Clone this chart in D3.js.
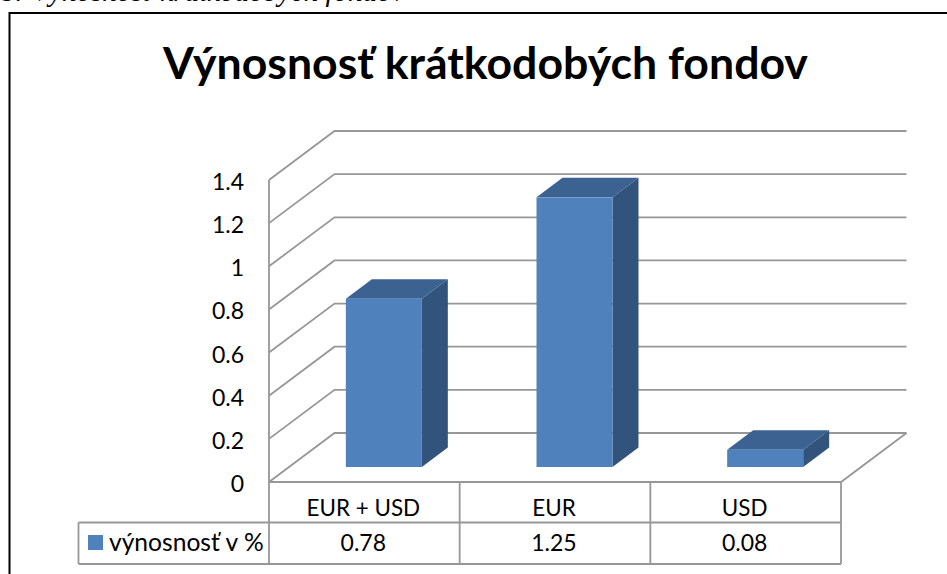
<!DOCTYPE html>
<html><head><meta charset="utf-8">
<script src="https://cdnjs.cloudflare.com/ajax/libs/d3/7.8.5/d3.min.js"></script>
<style>html,body{margin:0;padding:0;background:#fff;overflow:hidden}svg{display:block}text{font-family:Lato,"Open Sans",sans-serif;fill:#000}</style>
</head><body><svg id="c" width="947" height="574"></svg>
<script>
const categories = ["EUR + USD", "EUR", "USD"];
const values = [0.78, 1.25, 0.08];
const seriesName = "výnosnosť v %";
const tableLabels = ["0.78", "1.25", "0.08"];
const yTicks = [0, 0.2, 0.4, 0.6, 0.8, 1, 1.2, 1.4];
const chartTitle = "Výnosnosť krátkodobých fondov";
const captionText = "8: Výnosnosť krátkodobých fondov";

const svg = d3.select("#c");
const dx = 65.5, dy = -49;          // wall depth
const barDx = 26, barDy = -19.5;    // bar depth
const barInset = 15;                // bar front is this far above the floor front edge
const x = d3.scaleBand().domain(categories).range([269, 841]).paddingInner(0).paddingOuter(0);
const y = d3.scaleLinear().domain([0, 1.4]).range([482, 180]);
const grey = "#979797";

svg.append("text").attr("x", 0).attr("y", 1).attr("font-size", 29)
  .style("font-family", "'Liberation Serif',serif").style("font-style", "italic").text(captionText);

// outer frame
svg.append("path").attr("d", "M9.5,574V13H947").attr("fill", "none").attr("stroke", "#000").attr("stroke-width", 2);

svg.append("text").attr("x", 485.5).attr("y", 79).attr("text-anchor", "middle")
  .attr("font-size", 44.6).attr("font-weight", 700).text(chartTitle);

// gridlines: side wall + back wall
svg.append("g").selectAll("path").data(yTicks).join("path")
  .attr("d", d => `M${x.range()[0]},${y(d)}L${x.range()[0] + dx},${y(d) + dy}H${x.range()[1] + dx}`)
  .attr("fill", "none").attr("stroke", grey).attr("stroke-width", 1.8);

// left axis line, floor front and side
svg.append("path")
  .attr("d", `M${x.range()[0]},${y(1.4)}V${y(0)}H${x.range()[1]}L${x.range()[1] + dx},${y(0) + dy}`)
  .attr("fill", "none").attr("stroke", grey).attr("stroke-width", 1.8);

// y labels
svg.append("g").selectAll("text").data(yTicks).join("text")
  .attr("x", 244).attr("y", d => y(d) + 10).attr("text-anchor", "end").attr("font-size", 23)
  .text(d => d);

// 3D bars
const barW = 76;
const bars = svg.append("g").selectAll("g").data(categories).join("g");
const bx = c => x(c) + (x.bandwidth() - barW) / 2 + 19.5;
const by = i => y(values[i]) - barInset;
const b0 = y(0) - barInset;
bars.append("path").attr("fill", "#3c6291")
  .attr("d", (c, i) => `M${bx(c)},${by(i)}l${barDx},${barDy}h${barW}l${-barDx},${-barDy}z`);
bars.append("path").attr("fill", "#32547c")
  .attr("d", (c, i) => `M${bx(c) + barW},${by(i)}l${barDx},${barDy}V${b0 + barDy}l${-barDx},${-barDy}z`);
bars.append("rect").attr("fill", "#4f81bd")
  .attr("x", c => bx(c)).attr("y", (c, i) => by(i)).attr("width", barW).attr("height", (c, i) => b0 - by(i));

// data table
const rowY = [482, 522.5, 564];
const colX = [x.range()[0], ...categories.map(c => x(c) + x.bandwidth())];
const legendLeft = 78.5;
const t = svg.append("g").attr("stroke", grey).attr("stroke-width", 1.8);
t.selectAll("line.v").data(colX).join("line").attr("class", "v")
  .attr("x1", d => d).attr("x2", d => d).attr("y1", rowY[0]).attr("y2", rowY[2]);
t.append("line").attr("x1", legendLeft).attr("x2", legendLeft).attr("y1", rowY[1]).attr("y2", rowY[2]);
t.append("line").attr("x1", legendLeft).attr("x2", colX[3]).attr("y1", rowY[1]).attr("y2", rowY[1]);
t.append("line").attr("x1", legendLeft).attr("x2", colX[3]).attr("y1", rowY[2]).attr("y2", rowY[2]);

svg.append("g").selectAll("text").data(categories).join("text")
  .attr("x", c => x(c) + x.bandwidth() / 2 - 1).attr("y", 515.5).attr("text-anchor", "middle").attr("font-size", 22.4).text(c => c);
svg.append("g").selectAll("text").data(tableLabels).join("text")
  .attr("x", (c, i) => x(categories[i]) + x.bandwidth() / 2 - 1).attr("y", 551).attr("text-anchor", "middle").attr("font-size", 23).text(c => c);

svg.append("rect").attr("x", 88).attr("y", 535).attr("width", 15).attr("height", 15).attr("fill", "#4f81bd");
svg.append("text").attr("x", 109).attr("y", 551).attr("font-size", 24.6).text(seriesName);
</script></body></html>
